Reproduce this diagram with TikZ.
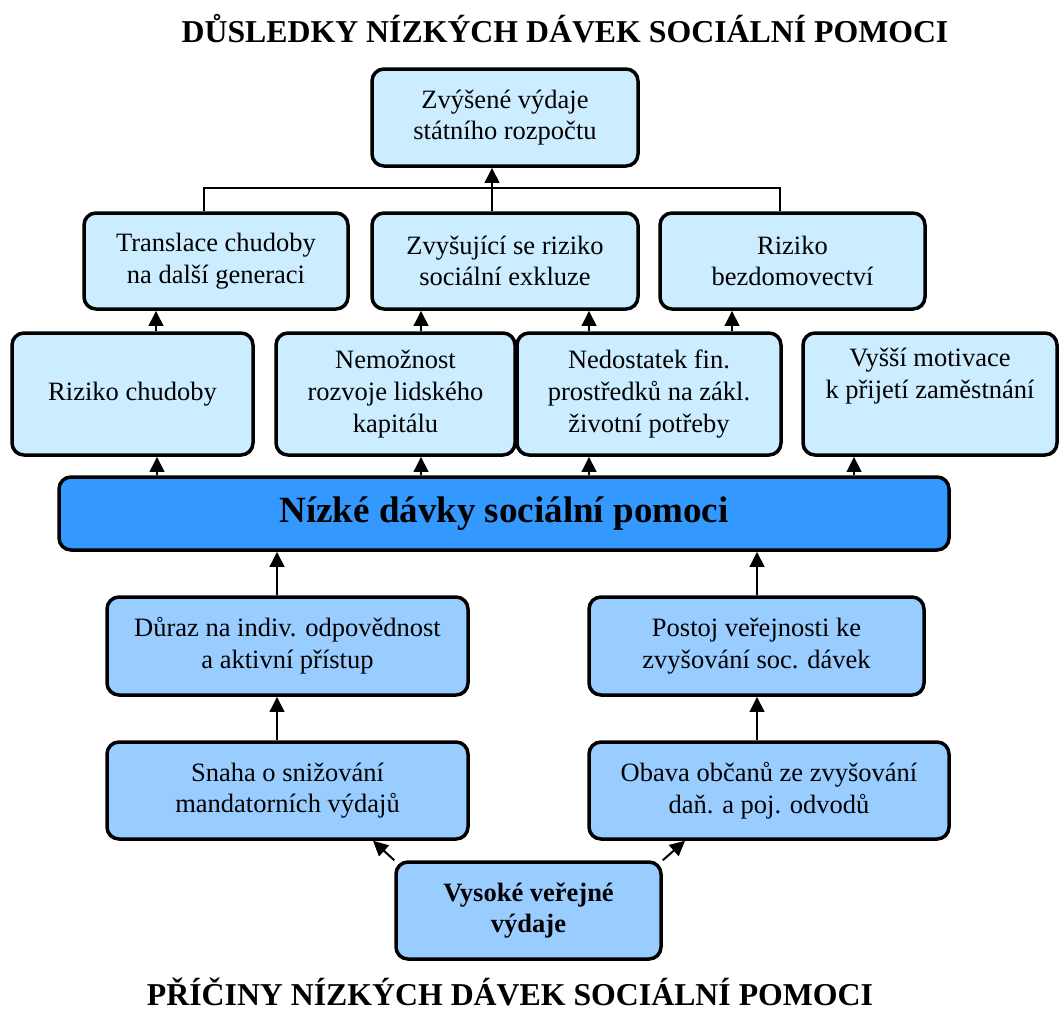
\documentclass[tikz,border=0pt]{standalone}
\usepackage{fontspec}
\setmainfont{Liberation Serif}
\newfontfamily\tnr{Liberation Serif}
\usetikzlibrary{arrows.meta}
\definecolor{lightc}{HTML}{CCECFF}
\definecolor{medc}{HTML}{99CCFF}
\definecolor{darkc}{HTML}{3399FF}
\tikzset{
  box/.style={draw=black, line width=3.5pt, rounded corners=12pt, inner sep=0pt, align=center,
    font=\tnr\fontsize{26.5}{31.6}\selectfont},
  lt/.style={box, fill=lightc},
  md/.style={box, fill=medc},
  dk/.style={box, fill=darkc, font=\tnr\bfseries\fontsize{37}{44}\selectfont},
  arr/.style={line width=2pt, -{Triangle[width=14.5pt,length=15pt]}},
  thin/.style={line width=1.6pt},
  ttl/.style={font=\tnr\bfseries\fontsize{31.8}{37}\selectfont, inner sep=0pt, anchor=base},
}
\begin{document}
\begin{tikzpicture}[x=1pt,y=-1pt]
\useasboundingbox (0,0) rectangle (1059,1012);
% titles
\node[ttl] (t1) at (565,42) {DŮSLEDKY NÍZKÝCH DÁVEK SOCIÁLNÍ POMOCI};
\node[ttl] (t2) at (510,1005) {PŘÍČINY NÍZKÝCH DÁVEK SOCIÁLNÍ POMOCI};
% top
\node[lt, minimum width=266pt, minimum height=97pt] (top) at (505,117.5) {Zvýšené výdaje\\státního rozpočtu};
% row 2
\node[lt, minimum width=264pt, minimum height=96pt] (trans) at (216,261) {Translace chudoby\\na další generaci};
\node[lt, minimum width=266pt, minimum height=96pt] (zvys) at (505,261) {Zvyšující se riziko\\sociální exkluze};
\node[lt, minimum width=265pt, minimum height=96pt] (bezd) at (792.5,261) {Riziko\\bezdomovectví};
% row 3
\node[lt, minimum width=241pt, minimum height=122pt] (chud) at (132.5,394) {\strut Riziko chudoby};
\node[lt, minimum width=239pt, minimum height=122pt] (nemoz) at (395.5,394) {Nemožnost\\rozvoje lidského\\kapitálu};
\node[lt, minimum width=264pt, minimum height=122pt] (nedost) at (649,394) {Nedostatek fin.\\prostředků na zákl.\\životní potřeby};
\node[lt, minimum width=254pt, minimum height=122pt] (vyssi) at (930,394) {Vyšší motivace\\k přijetí zaměstnání\\\strut};
% main
\node[dk, minimum width=890pt, minimum height=73pt] (main) at (504,513.5) {Nízké dávky sociální pomoci};
% row 4
\node[md, minimum width=361pt, minimum height=98pt] (duraz) at (287.5,646) {Důraz na indiv. odpovědnost\\a aktivní přístup};
\node[md, minimum width=335pt, minimum height=98pt] (postoj) at (756.5,646) {Postoj veřejnosti ke\\zvyšování soc. dávek};
% row 5
\node[md, minimum width=361pt, minimum height=97pt] (snaha) at (287.5,790.5) {Snaha o snižování\\mandatorních výdajů};
\node[md, minimum width=360pt, minimum height=97pt] (obava) at (769,790.5) {Obava občanů ze zvyšování\\daň. a poj. odvodů};
% bottom
\node[md, minimum width=265pt, minimum height=97pt, font=\tnr\bfseries\fontsize{26.5}{31.6}\selectfont] (vys) at (528.5,910.5) {Vysoké veřejné\\výdaje};
% column coordinates
\coordinate (xa) at (156,0);
\coordinate (xa2) at (157,0);
\coordinate (xb) at (421,0);
\coordinate (xc) at (589,0);
\coordinate (xd) at (854,0);
\coordinate (xe) at (732,0);
\coordinate (xf) at (492,0);
\coordinate (xg) at (204,0);
\coordinate (xh) at (780,0);
\coordinate (xi) at (277,0);
\coordinate (xj) at (757,0);
\coordinate (xk) at (373,0);
\coordinate (xl) at (685,0);
% connectors
\draw[arr] (main.north -| xa2) -- (chud.south -| xa2);
\draw[arr] (main.north -| xb) -- (nemoz.south -| xb);
\draw[arr] (main.north -| xc) -- (nedost.south -| xc);
\draw[arr] (main.north -| xd) -- (vyssi.south -| xd);
\draw[arr] (chud.north -| xa) -- (trans.south -| xa);
\draw[arr] (nemoz.north -| xb) -- (zvys.south -| xb);
\draw[arr] (nedost.north -| xc) -- (zvys.south -| xc);
\draw[arr] (nedost.north -| xe) -- (bezd.south -| xe);
\draw[thin] (trans.north -| xg) -- ++(0,-23) -| (bezd.north -| xh);
\draw[arr] (zvys.north -| xf) -- (top.south -| xf);
\draw[arr] (duraz.north -| xi) -- (main.south -| xi);
\draw[arr] (postoj.north -| xj) -- (main.south -| xj);
\draw[arr] (snaha.north -| xi) -- (duraz.south -| xi);
\draw[arr] (obava.north -| xj) -- (postoj.south -| xj);
\draw[arr] (vys.north west) -- (snaha.south -| xk);
\draw[arr] (vys.north east) -- (obava.south -| xl);
\end{tikzpicture}
\end{document}
